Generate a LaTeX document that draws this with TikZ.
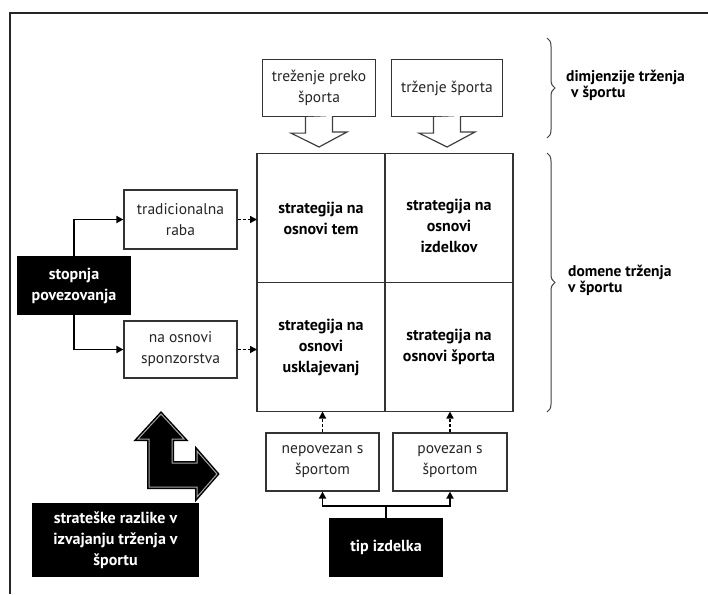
\documentclass[tikz,border=0pt]{standalone}
\usepackage{fontspec}
\setmainfont{PT Sans}
\usetikzlibrary{arrows.meta,decorations.pathreplacing}
\begin{document}
\begin{tikzpicture}[x=1pt,y=-1pt,
  box/.style={draw=black!80, line width=1.2pt, fill=white, align=center, inner sep=0pt,
    font=\fontsize{15.5}{21}\selectfont, text=black!85},
  darkbox/.style={fill=black, text=white, align=center, inner sep=0pt,
    font=\bfseries\fontsize{16}{21}\selectfont},
  cell/.style={draw=black!80, line width=1.2pt, minimum width=128pt, minimum height=129pt,
    inner sep=0pt, outer sep=0pt},
  celltext/.style={align=center, inner sep=0pt, font=\bfseries\fontsize{16}{21}\selectfont},
  link/.style={line width=1.8pt, black},
  linkarrow/.style={link, -{Triangle[length=7pt,width=7pt]}},
  dasharrow/.style={line width=1.4pt, dash pattern=on 3pt off 2pt, -{Triangle[length=7pt,width=7pt]}},
  bracestyle/.style={draw=black!75, line width=1pt, decorate, decoration={brace, amplitude=8pt}},
  bracelabel/.style={align=left, anchor=west, inner sep=0pt, font=\bfseries\fontsize{15.5}{16}\selectfont},
  blockarrow/.style={draw=black!75, line width=1.2pt, fill=white}
]
\useasboundingbox (0,0) rectangle (708,594);
\fill[white] (0,0) rectangle (708,594);

% outer frame (top and left edges)
\draw[line width=2.5pt, black!85] (10,594) -- (10,13) -- (708,13);

% 2x2 strategy grid
\node[cell] (tl) at (321,218) {};
\node[cell] (tr) at (449,218) {};
\node[cell] (bl) at (321,347) {};
\node[cell] (br) at (449,347) {};
\node[celltext] (tlt) at (tl.center) {strategija na\\osnovi tem};
\node[celltext, anchor=north] (trt) at (449,199) {strategija na\\osnovi\\izdelkov};
\node[celltext] (blt) at (bl.center) {strategija na\\osnovi\\usklajevanj};
\node[celltext] (brt) at (br.center) {strategija na\\osnovi športa};

% dimensions of sport marketing
\node[box, minimum width=113pt, minimum height=57pt] (tps) at (319,88) {treženje preko\\športa};
\node[box, minimum width=111pt, minimum height=57pt] (ts) at (447,88) {trženje športa};
\draw[blockarrow] (tps.south) ++(-13.5,0) -- ++(0,16) -- ++(-14.5,0) -- (319,147)
  -- ++(28,-15) -- ++(-14.5,0) -- ++(0,-16);
\draw[blockarrow] (ts.south) ++(-13.5,0) -- ++(0,16) -- ++(-14.5,0) -- (447,147)
  -- ++(28,-15) -- ++(-14.5,0) -- ++(0,-16);

% degree of integration
\node[darkbox, minimum width=114pt, minimum height=59pt] (stop) at (74,285.5) {stopnja\\povezovanja};
\node[box, minimum width=113pt, minimum height=59pt] (trad) at (180.5,219.5) {tradicionalna\\raba};
\node[box, minimum width=113pt, minimum height=57pt] (spon) at (180.5,349.5) {na osnovi\\sponzorstva};
\draw[linkarrow] (stop.north) |- (trad.west);
\draw[linkarrow] (stop.south) |- (spon.west);
\draw[dasharrow] (trad.east) -- (trad.east -| tl.west);
\draw[dasharrow] (spon.east) -- (spon.east -| bl.west);

% product type
\node[box, minimum width=113pt, minimum height=58pt] (nep) at (322.5,462) {nepovezan s\\športom};
\node[box, minimum width=114pt, minimum height=58pt] (pov) at (450,462) {povezan s\\športom};
\node[darkbox, minimum width=114pt, minimum height=59pt] (tip) at (386,547.5) {tip izdelka};
\coordinate (join) at (386,506);
\draw[link] (tip.north) -- (join);
\draw[linkarrow] (join) -| (nep.south);
\draw[linkarrow] (join) -| (pov.south);
\draw[dasharrow] (nep.north) -- (nep.north |- bl.south);
\draw[dasharrow] (pov.north) -- (pov.north |- br.south);

% strategic differences
\def\Lpath{(161,414) -- (184,439) -- (172,439) -- (172,463) -- (197,463) -- (197,451)
  -- (217,474) -- (197,497) -- (197,487) -- (149,487) -- (149,439) -- (138,439) -- cycle}
\draw[fill=black, draw=black, line width=4pt, line join=miter] \Lpath;
\draw[draw=black!35, line width=1pt, line join=miter] \Lpath;
\node[darkbox, minimum width=167pt, minimum height=74pt] (strat) at (115.5,540)
  {strateške razlike v\\izvajanju trženja v\\športu};

% braces with labels
\draw[bracestyle] (547,38) -- (547,138);
\draw[bracestyle] (547,153) -- (547,412);
\node[bracelabel] (dim) at (566,85) {dimjenzije trženja\\\hspace*{5pt}v športu};
\node[bracelabel] (dom) at (568,280) {domene trženja\\v športu};
\end{tikzpicture}
\end{document}
